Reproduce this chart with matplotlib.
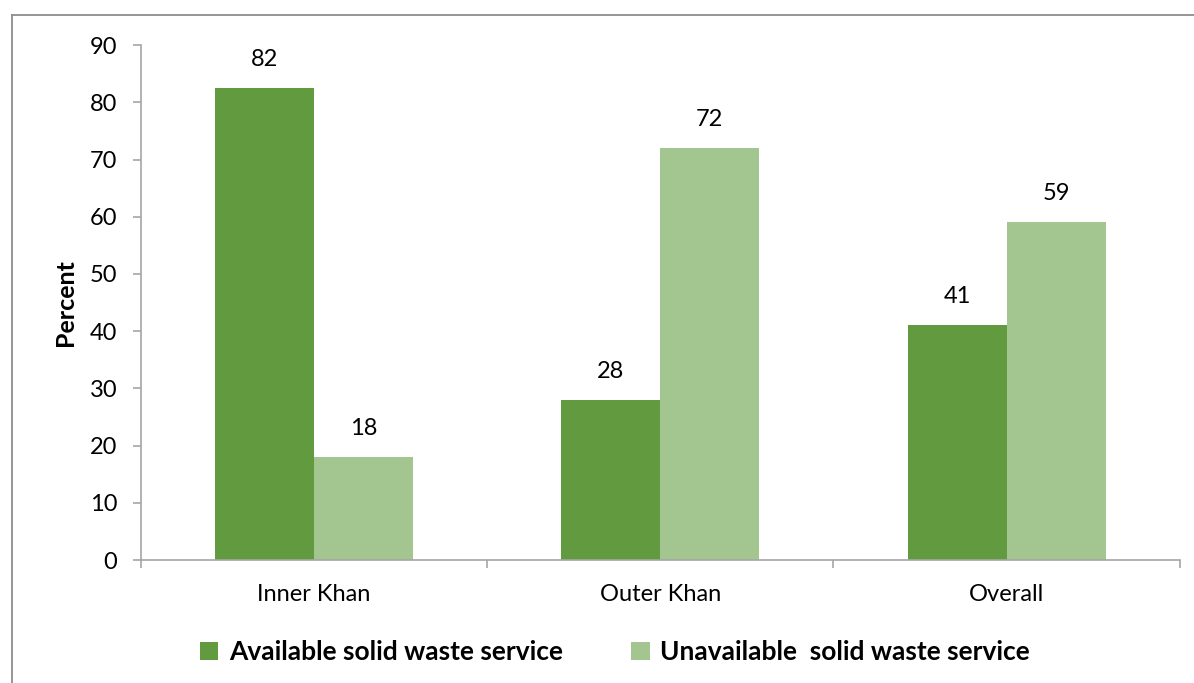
import numpy as np
import matplotlib.pyplot as plt
from matplotlib.lines import Line2D

plt.rcParams['font.family'] = ['Lato', 'DejaVu Sans']

# Data
categories = ['Inner Khan', 'Outer Khan', 'Overall']
available = [82.5, 28, 41]
unavailable = [18, 72, 59]
series_names = ['Available solid waste service', 'Unavailable  solid waste service']
colors = ['#629B3F', '#A3C590']

fig = plt.figure(figsize=(11.94, 6.83), dpi=100)
ax = fig.add_axes([0.118, 0.180, 0.870, 0.754])

x = np.arange(len(categories))
w = 0.286
b1 = ax.bar(x - w / 2, available, w, color=colors[0], label=series_names[0])
b2 = ax.bar(x + w / 2, unavailable, w, color=colors[1], label=series_names[1])

for bars in (b1, b2):
    for rect in bars:
        v = rect.get_height()
        ax.annotate('{:.0f}'.format(v), (rect.get_x() + rect.get_width() / 2, v),
                    xytext=(0, 13), textcoords='offset points',
                    ha='center', va='bottom', fontsize=17)

ax.set_xlim(-0.5, len(categories) - 0.5)
ax.set_ylim(0, 90)
ax.set_yticks(range(0, 91, 10))
ax.set_xticks(x)
ax.set_xticklabels(categories)
ax.set_xticks(np.arange(-0.5, len(categories), 1), minor=True)
ax.tick_params(axis='x', which='major', length=0, pad=17, labelsize=17)
ax.tick_params(axis='x', which='minor', length=6, width=1.2, color='#A6A6A6')
ax.tick_params(axis='y', length=6, width=1.2, color='#A6A6A6', pad=11, labelsize=17)

for side in ['top', 'right']:
    ax.spines[side].set_visible(False)
for side in ['left', 'bottom']:
    ax.spines[side].set_color('#A6A6A6')
    ax.spines[side].set_linewidth(1.2)

ax.set_ylabel('Percent', fontsize=18, fontweight='bold', labelpad=9)

fig.legend(loc='center', bbox_to_anchor=(0.515, 0.045), ncol=2, frameon=False,
           prop={'size': 19, 'weight': 'bold'}, handlelength=0.7, handleheight=0.7,
           handletextpad=0.4, columnspacing=2.6)

# chart area border
fig.add_artist(Line2D([0.010, 1.0], [0.978, 0.978], transform=fig.transFigure,
                      color='#8C8C8C', linewidth=1.3))
fig.add_artist(Line2D([0.010, 0.010], [0.0, 0.978], transform=fig.transFigure,
                      color='#8C8C8C', linewidth=1.3))

fig.savefig('out.png', dpi=100)
